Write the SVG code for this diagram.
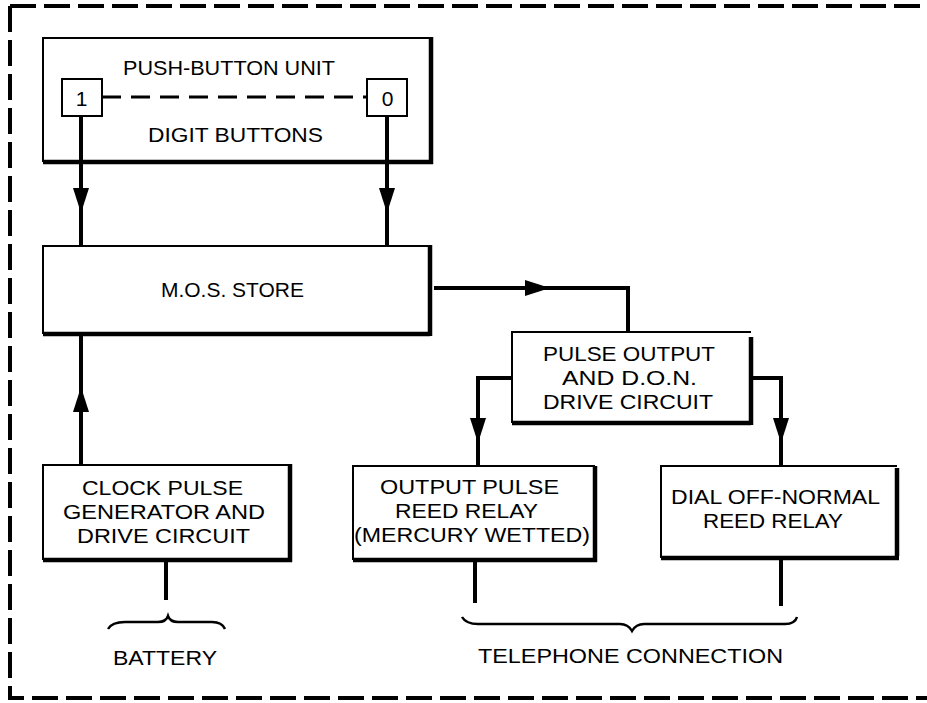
<svg xmlns="http://www.w3.org/2000/svg" xmlns:xlink="http://www.w3.org/1999/xlink" width="927" height="703" viewBox="0 0 927 703">
<style>
  .t { font-family: "Liberation Sans", Arial, Helvetica, sans-serif; font-size: 21px; fill: #000; text-anchor: middle; }
  .thin { fill: none; stroke: #000; stroke-width: 2; }
  .thick { fill: none; stroke: #000; stroke-width: 4.5; }
  .wire { fill: none; stroke: #000; stroke-width: 4; }
  .border { fill: none; stroke: #000; stroke-width: 4; stroke-dasharray: 26 8; }
  .brace { fill: none; stroke: #000; stroke-width: 2.5; }
</style>
<defs>
  <path id="ah" d="M0,0 L-25,-8 L-25,8 Z" fill="#000"/>
</defs>
<rect width="927" height="703" fill="#fff"/>

<g id="border">
  <path class="border" d="M10,6 H927"/>
  <path class="border" d="M10,6 V698 H927"/>
</g>

<g id="push-button-unit">
  <path class="thin" d="M431,38 H43 V162"/>
  <path class="thick" d="M431,37 V164 M43,162 H433"/>
  <text class="t" x="229" y="75" font-size="22" textLength="212" lengthAdjust="spacingAndGlyphs">PUSH-BUTTON UNIT</text>
  <rect class="thin" x="62" y="79" width="40" height="37"/>
  <text class="t" x="81.5" y="106" font-size="23">1</text>
  <rect class="thin" x="367" y="79" width="40" height="37"/>
  <text class="t" x="387.5" y="106" font-size="23">0</text>
  <path d="M102,97 H367" fill="none" stroke="#000" stroke-width="3" stroke-dasharray="19 10"/>
  <text class="t" x="235.5" y="142" font-size="22" textLength="175" lengthAdjust="spacingAndGlyphs">DIGIT BUTTONS</text>
</g>

<g id="mos-store">
  <path class="thin" d="M429,246 H43 V334"/>
  <path class="thick" d="M430,245 V336 M43,334 H430"/>
  <text class="t" x="232.5" y="297" font-size="22" textLength="143" lengthAdjust="spacingAndGlyphs">M.O.S. STORE</text>
</g>

<g id="pulse-output">
  <path class="thin" d="M751,332 H512 V423"/>
  <path class="thick" d="M751,337 V425 M512,423 H751"/>
  <text class="t" x="629" y="361" textLength="172" lengthAdjust="spacingAndGlyphs">PULSE OUTPUT</text>
  <text class="t" x="629.5" y="385" textLength="135" lengthAdjust="spacingAndGlyphs">AND D.O.N.</text>
  <text class="t" x="628" y="409" textLength="170" lengthAdjust="spacingAndGlyphs">DRIVE CIRCUIT</text>
</g>

<g id="clock-pulse">
  <path class="thin" d="M290,465 H43 V560"/>
  <path class="thick" d="M290,464 V562 M43,560 H292"/>
  <text class="t" x="162.5" y="495" textLength="161" lengthAdjust="spacingAndGlyphs">CLOCK PULSE</text>
  <text class="t" x="164" y="519" textLength="202" lengthAdjust="spacingAndGlyphs">GENERATOR AND</text>
  <text class="t" x="163.5" y="543" textLength="173" lengthAdjust="spacingAndGlyphs">DRIVE CIRCUIT</text>
</g>

<g id="output-pulse-relay">
  <path class="thin" d="M595,466 H353 V560"/>
  <path class="thick" d="M595,466 V562 M353,560 H597"/>
  <text class="t" x="469.5" y="494" textLength="179" lengthAdjust="spacingAndGlyphs">OUTPUT PULSE</text>
  <text class="t" x="466.5" y="518" textLength="143" lengthAdjust="spacingAndGlyphs">REED RELAY</text>
  <text class="t" x="472" y="542" textLength="236" lengthAdjust="spacingAndGlyphs">(MERCURY WETTED)</text>
</g>

<g id="dial-off-normal">
  <path class="thin" d="M897,466 H661 V558"/>
  <path class="thick" d="M897,468 V556 M661,558 H899"/>
  <text class="t" x="775.5" y="504" textLength="209" lengthAdjust="spacingAndGlyphs">DIAL OFF-NORMAL</text>
  <text class="t" x="773" y="528" textLength="140" lengthAdjust="spacingAndGlyphs">REED RELAY</text>
</g>

<g id="battery">
  <path class="brace" d="M108,629 Q112,622 125,622 L158,622 Q166,622 168,616 Q170,622 178,622 L212,622 Q222,622 225,629"/>
  <text class="t" x="165" y="665" font-size="22" textLength="104" lengthAdjust="spacingAndGlyphs">BATTERY</text>
</g>

<g id="telephone-connection">
  <path class="brace" d="M462,617 Q466,624 478,624 L620,624 Q628,624 632,631 Q636,624 644,624 L785,624 Q795,624 797,617"/>
  <text class="t" x="630.5" y="663" font-size="22" textLength="305" lengthAdjust="spacingAndGlyphs">TELEPHONE CONNECTION</text>
</g>

<g id="connectors">
  <path class="wire" d="M81,116 V246"/>
  <use xlink:href="#ah" transform="translate(81,213) rotate(90)"/>
  <path class="wire" d="M387,116 V246"/>
  <use xlink:href="#ah" transform="translate(387,213) rotate(90)"/>
  <path class="wire" d="M81,336 V465"/>
  <use xlink:href="#ah" transform="translate(81,387) rotate(-90)"/>
  <path class="wire" d="M434,288 H628 V332"/>
  <use xlink:href="#ah" transform="translate(550,288)"/>
  <path class="wire" d="M511,378 H478 V466"/>
  <use xlink:href="#ah" transform="translate(478,443) rotate(90)"/>
  <path class="wire" d="M752,378 H781 V466"/>
  <use xlink:href="#ah" transform="translate(781,443) rotate(90)"/>
  <path class="wire" d="M166,562 V600"/>
  <path class="wire" d="M475,562 V603"/>
  <path class="wire" d="M781,560 V606"/>
</g>
</svg>
